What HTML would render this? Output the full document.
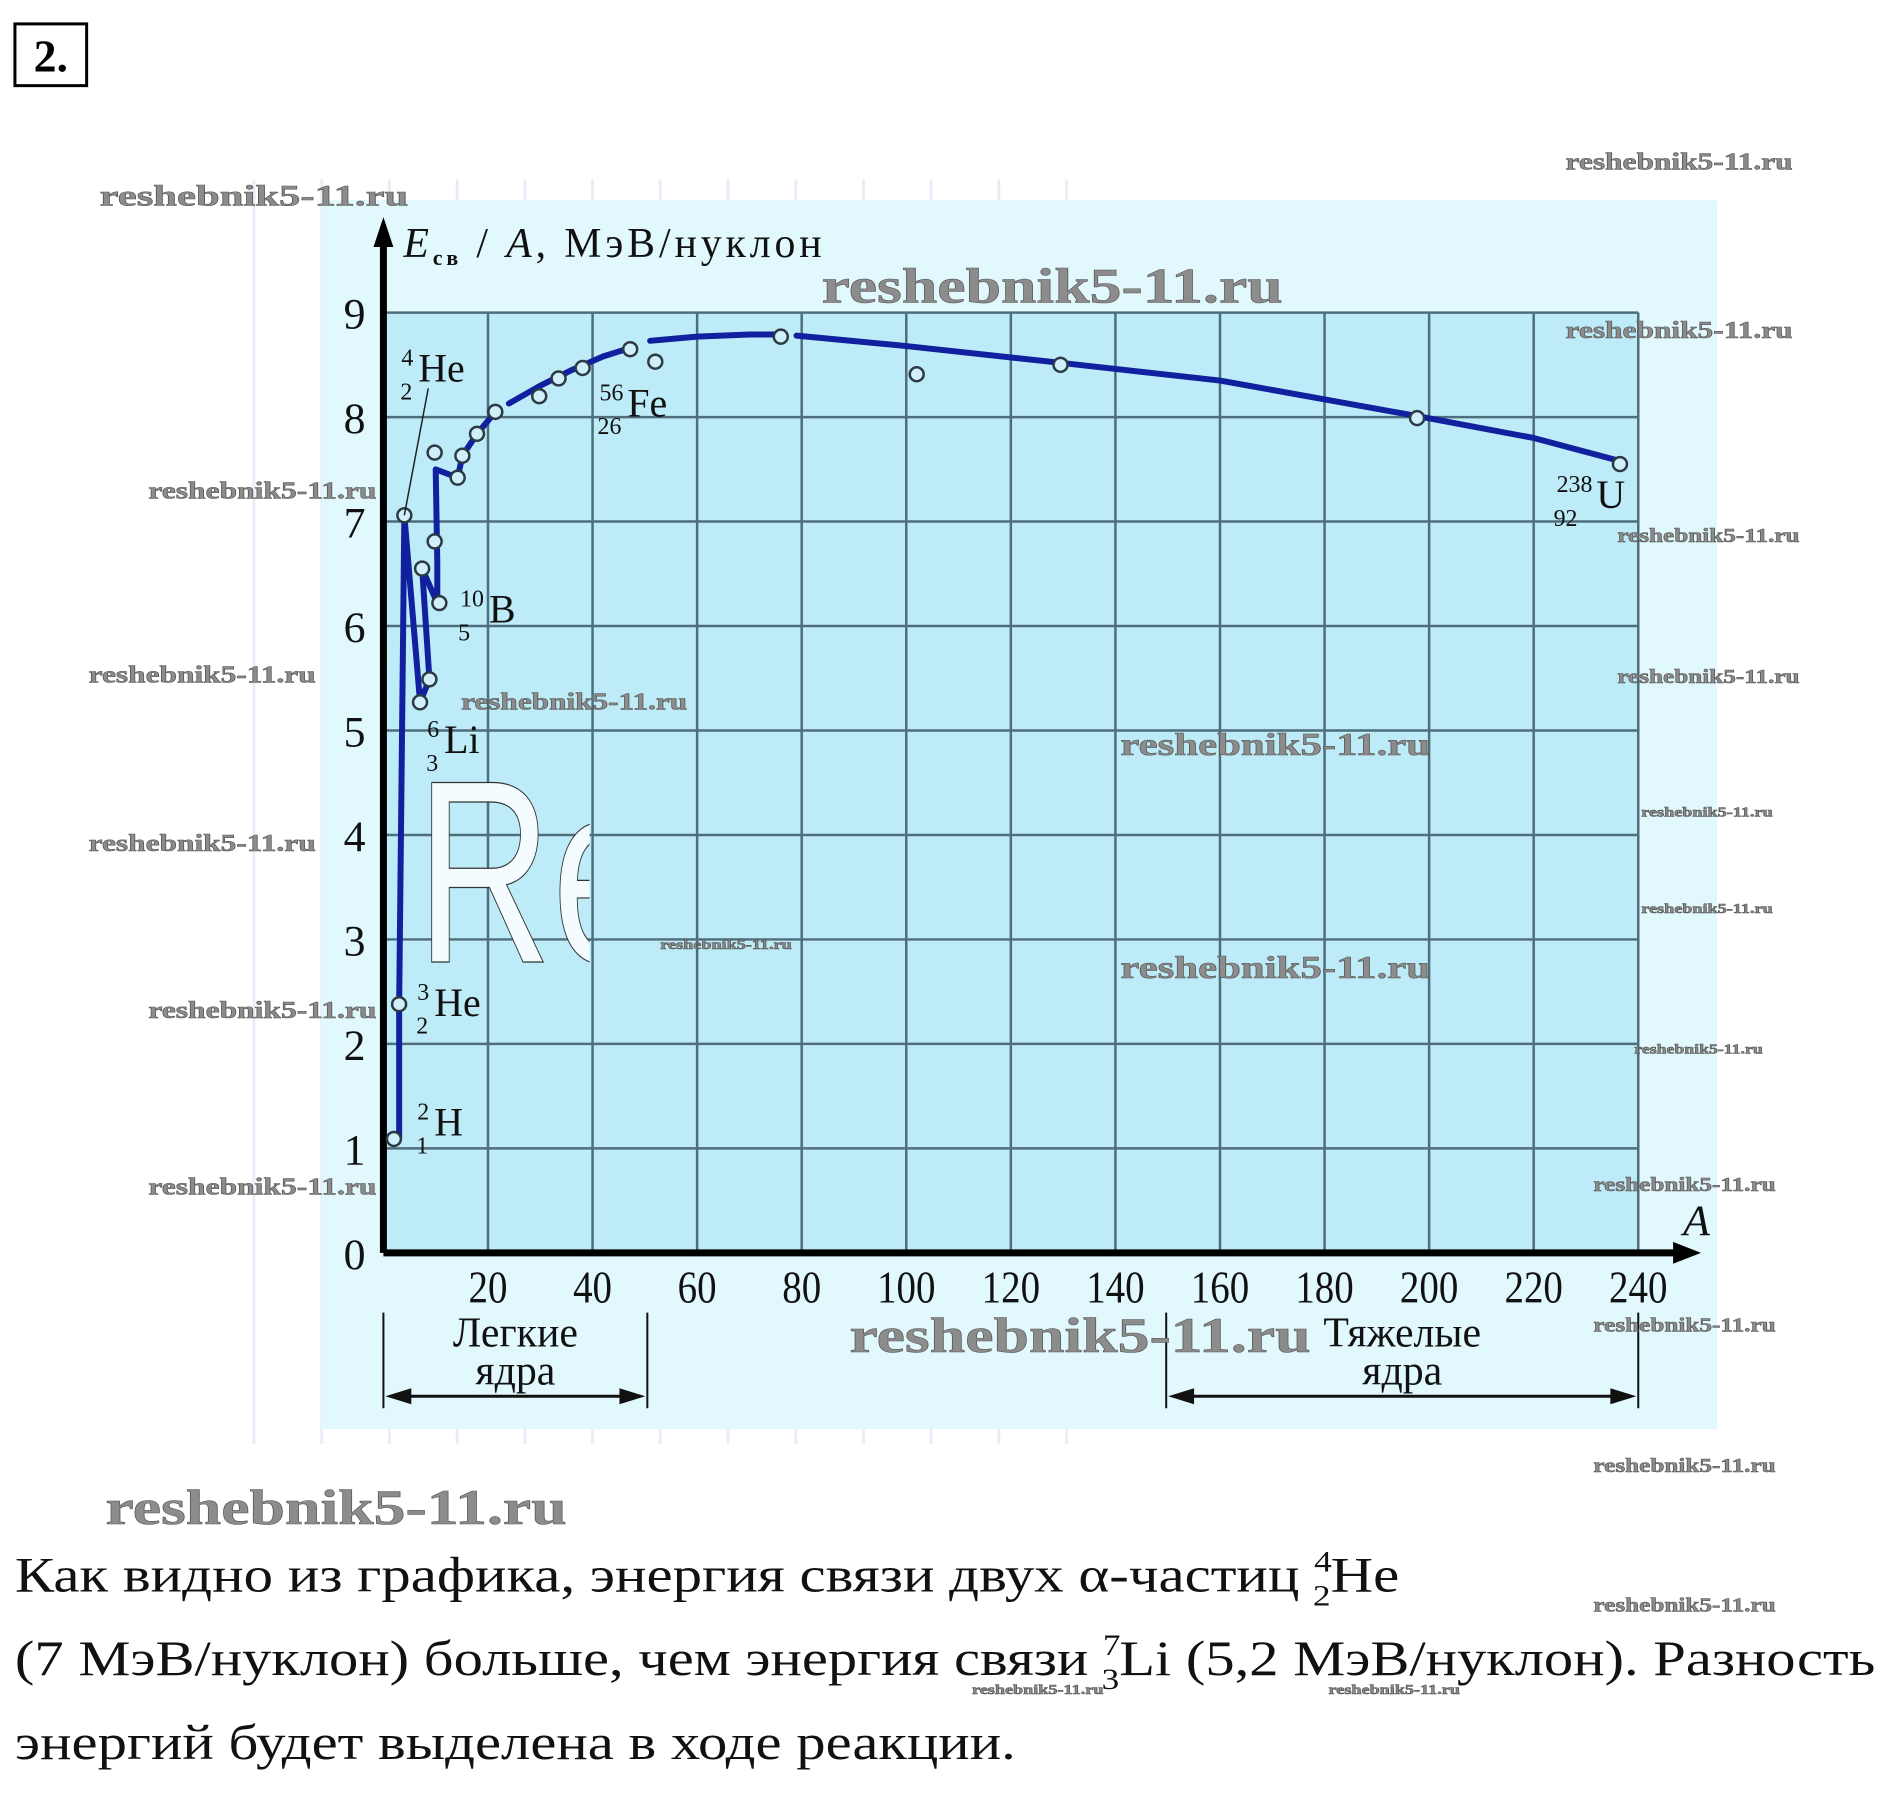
<!DOCTYPE html>
<html><head><meta charset="utf-8"><style>
html,body{margin:0;padding:0;background:#fff;}
svg{display:block;}
.wm{font-family:"Liberation Serif",serif;font-weight:bold;fill:#8c8c8c;stroke:#555;stroke-width:0.6;}
.ax{font-family:"Liberation Serif","DejaVu Serif",serif;fill:#111;}
</style></head><body>
<svg id="chart" width="1901" height="1817" viewBox="0 0 1901 1817" xmlns="http://www.w3.org/2000/svg">
<defs><clipPath id="reclip"><rect x="380" y="700" width="212" height="300"/></clipPath></defs>
<g transform="scale(0.9959)">
<g id="bggrid"></g>
<rect x="323" y="201" width="1401" height="1234" fill="#e1f8fc"/>
<g id="plot"></g>
<rect x="15" y="24" width="72" height="62" fill="none" stroke="#000" stroke-width="3"/>
<text x="51" y="72" text-anchor="middle" font-family="Liberation Serif,serif" font-weight="bold" font-size="46">2.</text>
<g font-family="Liberation Serif,'DejaVu Serif',serif" font-size="50" fill="#111">
<text x="15" y="1598" textLength="1390" lengthAdjust="spacingAndGlyphs">Как видно из графика, энергия связи двух α-частиц <tspan font-size="30" dy="-20">4</tspan><tspan font-size="30" dx="-16" dy="34">2</tspan><tspan dy="-14">He</tspan></text>
<text x="15" y="1682" textLength="1868" lengthAdjust="spacingAndGlyphs">(7 МэВ/нуклон) больше, чем энергия связи <tspan font-size="30" dy="-20">7</tspan><tspan font-size="30" dx="-16" dy="34">3</tspan><tspan dy="-14">Li (5,2 МэВ/нуклон). Разность</tspan></text>
<text x="15" y="1766" textLength="1005" lengthAdjust="spacingAndGlyphs">энергий будет выделена в ходе реакции.</text>
</g>
<g id="wms"></g>
</g>
</svg>
<script>
// data
const pointA=[2,3,4,7,8.8,7.4,9.8,10.7,9.8,14.2,15.1,17.9,21.4,29.8,33.5,38.1,47.2,52,76,102,129.5,197.7,236.5];
const pointE=[1.09,2.38,7.06,5.27,5.49,6.55,6.81,6.22,7.66,7.42,7.63,7.84,8.05,8.2,8.37,8.47,8.65,8.53,8.77,8.41,8.5,7.99,7.55];
const lightLineA=[3,3,4,7,8.8,7.4,10.3,10.3,10,14.2,15.1,17.9,21.4];
const lightLineE=[1.09,2.38,7.06,5.27,5.49,6.55,6.22,6.6,7.5,7.42,7.63,7.84,8.05];
const curve1A=[24,30,36,42,47];
const curve1E=[8.13,8.3,8.45,8.58,8.66];
const curve2A=[51,60,70,76];
const curve2E=[8.73,8.77,8.79,8.79];
const curve3A=[79,100,129.5,160,197.7,220,236.5];
const curve3E=[8.78,8.68,8.52,8.35,8.01,7.8,7.58];
const xTicks=[20,40,60,80,100,120,140,160,180,200,220,240];
const yTicks=[0,1,2,3,4,5,6,7,8,9];
const NS='http://www.w3.org/2000/svg';
const X0=385,Y0=1258,XS=5.25,YS=104.9;
function sx(a){return X0+a*XS;}
function sy(e){return Y0-e*YS;}
function mk(tag,attrs,parent,txt){const el=document.createElementNS(NS,tag);for(const k in attrs)el.setAttribute(k,attrs[k]);if(txt!==undefined)el.textContent=txt;parent.appendChild(el);return el;}
const bg=document.getElementById('bggrid');
for(let i=0;i<13;i++){const x=255+i*68;const l=mk('line',{x1:x,y1:180,x2:x,y2:1450,stroke:'#ececf8','stroke-width':3},bg);

}
const plot=document.getElementById('plot');
const gr=mk('rect',{x:sx(0),y:sy(9),width:sx(240)-sx(0),height:sy(0)-sy(9),fill:'#bdebf8'},plot);


xTicks.forEach(t=>{const l=mk('line',{x1:sx(t),y1:sy(9),x2:sx(t),y2:sy(0),stroke:'#4f6e7c','stroke-width':2.5},plot);


const tx=mk('text',{x:sx(t),y:1308,'text-anchor':'middle','font-size':46,class:'ax',transform:`translate(${sx(t)},0) scale(0.85,1) translate(${-sx(t)},0)`},plot,String(t));

});
yTicks.forEach(t=>{if(t>0){const l=mk('line',{x1:sx(0),y1:sy(t),x2:sx(240),y2:sy(t),stroke:'#4f6e7c','stroke-width':2.5},plot);

}
const tx=mk('text',{x:356,y:sy(t)+16,'text-anchor':'middle','font-size':44,class:'ax'},plot,String(t));

});
// watermark "Re"
const reg=mk('g',{'clip-path':'url(#reclip)'},plot);


const re=mk('text',{x:0,y:966,'font-size':262,'font-family':'Liberation Sans,sans-serif',fill:'#f4fcff',stroke:'#333','stroke-width':1.2,transform:'translate(418,0) scale(0.72,1)'},reg,'Re');


// axes
const xa=mk('path',{d:`M${sx(0)} ${sy(0)} H1690`,stroke:'#000','stroke-width':7,fill:'none'},plot);


const xar=mk('path',{d:`M1708 ${sy(0)} l-28 -11 v22 z`,fill:'#000'},plot);


const ya=mk('path',{d:`M${sx(0)} ${sy(0)} V240`,stroke:'#000','stroke-width':7,fill:'none'},plot);


const yar=mk('path',{d:`M${sx(0)} 218 l-10 30 h20 z`,fill:'#000'},plot);


const xt=mk('text',{x:1690,y:1240,'font-size':44,'font-style':'italic',class:'ax'},plot,'A');


const yt=mk('text',{x:405,y:258,'font-size':42,class:'ax',textLength:420,lengthAdjust:'spacing'},plot);


yt.innerHTML='<tspan font-style="italic">E</tspan><tspan font-size="22" dy="8" font-weight="bold">св</tspan><tspan dy="-8"> / </tspan><tspan font-style="italic">A</tspan><tspan>, МэВ/нуклон</tspan>';
// lines
function poly(A,E,name){const d=A.map((a,i)=>(i?'L':'M')+sx(a).toFixed(1)+' '+sy(E[i]).toFixed(1)).join(' ');
const p=mk('path',{d:d,stroke:'#10209e','stroke-width':6,fill:'none','stroke-linejoin':'round','stroke-linecap':'round'},plot);

}
poly(lightLineA,lightLineE,'light-nuclei-line');
poly(curve1A,curve1E,'binding-curve-1');
poly(curve2A,curve2E,'binding-curve-2');
poly(curve3A,curve3E,'binding-curve-3');
pointA.forEach((a,i)=>{const c=mk('circle',{cx:sx(a),cy:sy(pointE[i]),r:7,fill:'#cfeffa',stroke:'#2c3a44','stroke-width':2.5},plot);

});
// He4 leader
const ld=mk('line',{x1:sx(4),y1:sy(7.06),x2:430,y2:390,stroke:'#222','stroke-width':1.5},plot);


// isotope labels
const labels=[['He4-label',402,383,'4','2','He'],['fe-label',600,418,'56','26','Fe'],['b10-label',460,625,'10','5','B'],['li6-label',428,756,'6','3','Li'],['he3-label',418,1020,'3','2','He'],['h2-label',418,1140,'2','1','H'],['u-label',1560,510,'238','92','U']];
labels.forEach(l=>{const g=mk('text',{x:l[1],y:l[2],'font-size':40,class:'ax'},plot);


const w=l[3].length*13;
g.innerHTML=`<tspan font-size="24" dy="-16">${l[3]}</tspan><tspan font-size="24" dx="-${w}" dy="34">${l[4]}</tspan><tspan dx="${Math.max(0,w-l[4].length*13)+6}" dy="-18">${l[5]}</tspan>`;});
// brackets
function bracket(x1,x2,t1,name){const g=mk('g',{},plot);


mk('line',{x1:x1,y1:1318,x2:x1,y2:1414,stroke:'#111','stroke-width':2},g);
mk('line',{x1:x2,y1:1318,x2:x2,y2:1414,stroke:'#111','stroke-width':2},g);
mk('line',{x1:x1+10,y1:1402,x2:x2-10,y2:1402,stroke:'#111','stroke-width':3},g);
mk('path',{d:`M${x1+2} 1402 l26 -8 v16z M${x2-2} 1402 l-26 -8 v16z`,fill:'#111'},g);
const c=(x1+x2)/2;
mk('text',{x:c,y:1352,'text-anchor':'middle','font-size':42,class:'ax'},g,t1);
mk('text',{x:c,y:1390,'text-anchor':'middle','font-size':42,class:'ax'},g,'ядра');}
bracket(sx(0),650,'Легкие','light-nuclei-bracket');
bracket(1171,sx(240),'Тяжелые','heavy-nuclei-bracket');
// watermarks
const wmList=[[100,196,310,30],[1572,162,228,24],[825,286,463,50],[1572,331,228,24],[149,492,229,24],[1624,537,183,20],[89,677,228,24],[1624,679,183,20],[463,704,227,24],[1125,747,311,32],[1648,815,132,14],[89,846,228,24],[1648,912,132,14],[663,948,132,14],[1125,971,311,32],[149,1014,229,24],[1641,1053,129,14],[149,1191,229,24],[1600,1189,183,20],[853,1340,463,50],[1600,1330,183,20],[1600,1471,183,20],[106,1513,463,50],[1600,1611,183,20],[976,1696,132,14],[1334,1696,132,14]];
const wg=document.getElementById('wms');
wmList.forEach(w=>{const t=mk('text',{x:w[0],y:w[1]+w[3]*0.35,'font-size':w[3],textLength:w[2],lengthAdjust:'spacingAndGlyphs',class:'wm'},wg,'reshebnik5-11.ru');

});
</script>
</body></html>
